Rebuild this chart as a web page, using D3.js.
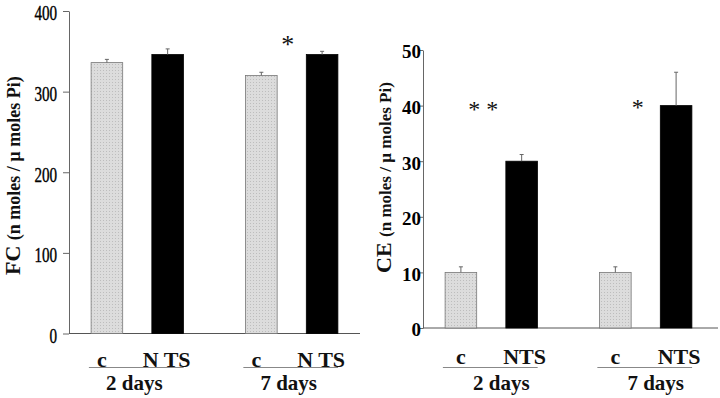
<!DOCTYPE html>
<html>
<head>
<meta charset="utf-8">
<script src="https://cdn.jsdelivr.net/npm/d3@7"></script>
<style>
body { margin: 0; background: #fff; }
svg { display: block; }
svg text { font-family: "Liberation Serif", "DejaVu Serif", "Times New Roman", Times, serif; fill: #111; }
</style>
</head>
<body>
<div id="chart"></div>
<script>
// data
const groups = ["2 days", "7 days"];
const conditions = ["c", "NTS"];
const fcCondLabels = ["c", "N TS"];
const ceCondLabels = ["c", "NTS"];
const fcMean = [[336, 346], [320, 346]];
const fcErr = [[4, 7], [4, 4]];
const ceMean = [[10, 30], [10, 40]];
const ceErr = [[1, 1.2], [1, 6]];
const fcTicks = [0, 100, 200, 300, 400];
const ceTicks = [0, 10, 20, 30, 40, 50];
const fcStars = ["", "*"];
const ceStars = ["* *", "*"];
const fcStarLevel = [0, 362];
const ceStarLevel = [40, 40.3];

const serif = '"Liberation Serif", "DejaVu Serif", "Times New Roman", Times, serif';

const svg = d3.select("#chart").append("svg")
    .attr("width", 720)
    .attr("height", 398)
    .attr("font-family", serif);

function drawPanel(p) {
    const g = svg.append("g");

    const y = d3.scaleLinear().domain([0, p.max]).range([p.y0, p.yTop]);

    const x0 = d3.scaleBand()
        .domain(groups)
        .range([p.axisX, p.axisX + 291])
        .paddingInner(0.3)
        .paddingOuter(0.092);
    const x1 = d3.scaleBand()
        .domain(conditions)
        .range([0, x0.bandwidth()])
        .paddingInner(0.48)
        .paddingOuter(0.13);

    // y axis
    const yAxis = g.append("g")
        .attr("transform", `translate(${p.axisX},0)`)
        .call(d3.axisLeft(y).tickValues(p.ticks).tickSize(p.tickSize).tickSizeOuter(0));
    yAxis.attr("font-family", serif);
    yAxis.select(".domain").attr("stroke", "#666");
    yAxis.selectAll(".tick line").attr("stroke", "#666");
    yAxis.selectAll(".tick text")
        .style("font-size", p.tickFont + "px")
        .style("font-weight", p.tickWeight)
        .style("fill", "#000")
        .style("stroke", p.tickStroke ? "#000" : "none")
        .style("stroke-width", 0.4)
        .attr("x", p.tickX)
        .attr("dy", "0.42em")
        .attr("transform", `scale(${p.tickScale},1)`);

    // x axis line
    g.append("line")
        .attr("x1", p.axisX).attr("x2", p.xEnd)
        .attr("y1", y(0)).attr("y2", y(0))
        .attr("stroke", "#555");

    groups.forEach((grp, gi) => {
        const gx = x0(grp);
        conditions.forEach((c, ci) => {
            const v = p.mean[gi][ci];
            const e = p.err[gi][ci];
            const bx = gx + x1(c);
            const cx = bx + x1.bandwidth() / 2;
            g.append("rect")
                .attr("x", bx)
                .attr("y", y(v))
                .attr("width", x1.bandwidth())
                .attr("height", y(0) - y(v))
                .attr("fill", ci === 0 ? "url(#dots)" : "#000")
                .attr("stroke", ci === 0 ? "#777" : "#000")
                .attr("stroke-width", 0.8);
            g.append("line")
                .attr("x1", cx).attr("x2", cx)
                .attr("y1", y(v)).attr("y2", y(v + e))
                .attr("stroke", "#666");
            g.append("line")
                .attr("x1", cx - 2).attr("x2", cx + 2)
                .attr("y1", y(v + e)).attr("y2", y(v + e))
                .attr("stroke", "#666");
            g.append("text")
                .attr("x", cx + p.catShift[ci])
                .attr("y", p.catY)
                .attr("text-anchor", "middle")
                .style("font-size", "22px")
                .style("font-weight", "bold")
                .text(p.catLabels[ci]);
        });
        const c0 = gx + x1("c") + x1.bandwidth() / 2;
        const c1 = gx + x1("NTS") + x1.bandwidth() / 2;
        g.append("line")
            .attr("x1", c0 - 18).attr("x2", c1 + 16)
            .attr("y1", 367.5).attr("y2", 367.5)
            .attr("stroke", "#888");
        g.append("text")
            .attr("x", gx + x0.bandwidth() / 2 + p.dayShift)
            .attr("y", 390)
            .attr("text-anchor", "middle")
            .style("font-size", "21px")
            .style("font-weight", "bold")
            .text(grp);
        if (p.stars[gi]) {
            g.append("text")
                .attr("x", gx + x0.bandwidth() / 2 + p.starShift)
                .attr("y", y(p.starLevel[gi]) + 11)
                .attr("text-anchor", "middle")
                .style("font-size", p.starFont + "px")
                .style("white-space", "pre")
                .text(p.stars[gi]);
        }
    });

    // y label
    const lab = g.append("text")
        .attr("transform", `translate(${p.labX},${p.labY}) rotate(-90)`)
        .style("font-weight", "bold");
    lab.append("tspan").style("font-size", "22px").text(p.name + " ");
    lab.append("tspan").style("font-size", p.labFont + "px").text("(n moles / µ moles Pi)");
}

// stipple pattern for control bars
const defs = svg.append("defs");
const pat = defs.append("pattern")
    .attr("id", "dots")
    .attr("width", 3).attr("height", 3)
    .attr("patternUnits", "userSpaceOnUse");
pat.append("rect").attr("width", 3).attr("height", 3).attr("fill", "#dcdcdc");
pat.append("rect").attr("x", 1).attr("y", 1).attr("width", 1).attr("height", 1).attr("fill", "#bdbdbd");

drawPanel({
    name: "FC", max: 400, ticks: fcTicks, mean: fcMean, err: fcErr,
    axisX: 69, xEnd: 360, y0: 333.5, yTop: 11,
    tickSize: 6, tickFont: 21, tickWeight: "normal", tickStroke: true, tickX: -16.5, tickScale: 0.72,
    catLabels: fcCondLabels, catY: 367, catShift: [-5, -1], dayShift: -3,
    stars: fcStars, starLevel: fcStarLevel, starShift: -4, starFont: 26,
    labX: 20, labY: 275, labFont: 18
});

drawPanel({
    name: "CE", max: 50, ticks: ceTicks, mean: ceMean, err: ceErr,
    axisX: 423, xEnd: 718, y0: 328, yTop: 50,
    tickSize: 3, tickFont: 19, tickWeight: "bold", tickStroke: false, tickX: -2, tickScale: 1,
    catLabels: ceCondLabels, catY: 364, catShift: [0, 3], dayShift: 10,
    stars: ceStars, starLevel: ceStarLevel, starShift: -8, starFont: 24,
    labX: 391, labY: 273, labFont: 17
});
</script>
</body>
</html>
